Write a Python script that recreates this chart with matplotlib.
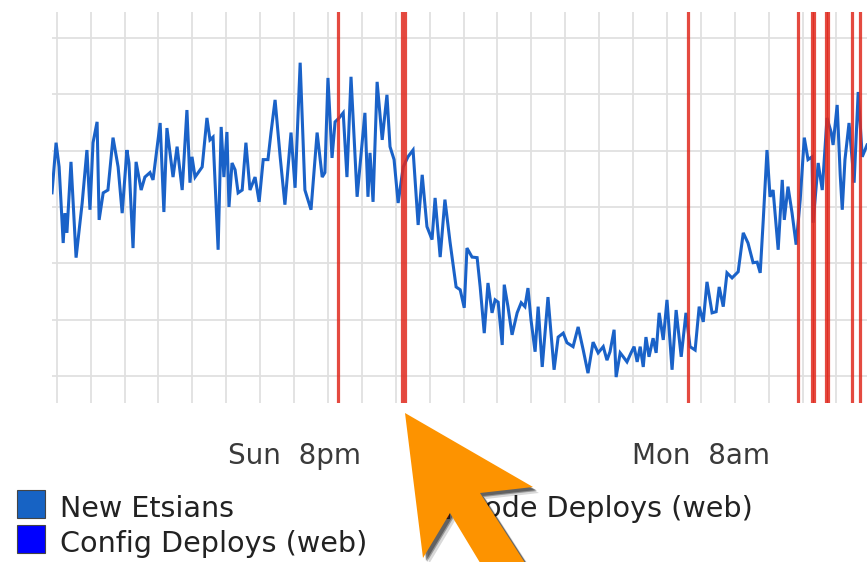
import matplotlib
matplotlib.use('Agg')
import matplotlib.pyplot as plt
from matplotlib.patches import Polygon, Rectangle

# hours since Sunday 00:00, values in arbitrary units (axis labels are not shown)
HOURS = [12.86, 12.98, 13.07, 13.19, 13.24, 13.30, 13.42, 13.57, 13.75, 13.89,
         13.98, 14.07, 14.19, 14.25, 14.37, 14.51, 14.66, 14.81, 14.93, 15.07,
         15.13, 15.25, 15.34, 15.49, 15.60, 15.75, 15.84, 16.05, 16.16, 16.25,
         16.43, 16.55, 16.70, 16.84, 16.93, 16.99, 17.08, 17.29, 17.43, 17.52,
         17.61, 17.76, 17.85, 17.93, 18.02, 18.08, 18.17, 18.26, 18.35, 18.47,
         18.58, 18.70, 18.85, 18.97, 19.09, 19.23, 19.32, 19.44, 19.59, 19.73,
         19.91, 20.03, 20.18, 20.32, 20.50, 20.68, 20.83, 20.91, 21.00, 21.12,
         21.21, 21.33, 21.45, 21.56, 21.68, 21.86, 22.09, 22.18, 22.24, 22.33,
         22.45, 22.60, 22.74, 22.83, 22.95, 23.07, 23.22, 23.36, 23.51, 23.66,
         23.78, 23.92, 24.07, 24.16, 24.31, 24.45, 24.60, 24.78, 24.90, 25.02,
         25.10, 25.25, 25.40, 25.49, 25.61, 25.72, 25.84, 25.93, 26.02, 26.14,
         26.20, 26.31, 26.43, 26.58, 26.70, 26.81, 26.90, 26.99, 27.11, 27.20,
         27.32, 27.49, 27.67, 27.79, 27.94, 28.05, 28.23, 28.38, 28.53, 28.67,
         28.82, 28.97, 29.12, 29.23, 29.32, 29.44, 29.50, 29.62, 29.71, 29.82,
         29.94, 30.03, 30.12, 30.21, 30.30, 30.38, 30.47, 30.59, 30.68, 30.77,
         30.89, 31.00, 31.15, 31.27, 31.42, 31.56, 31.68, 31.83, 31.95, 32.07,
         32.18, 32.33, 32.45, 32.54, 32.66, 32.77, 32.92, 33.10, 33.25, 33.39,
         33.54, 33.66, 33.75, 33.84, 33.95, 34.04, 34.13, 34.28, 34.40, 34.46,
         34.57, 34.69, 34.81, 34.93, 35.05, 35.16, 35.28, 35.31, 35.46, 35.58,
         35.72, 35.84, 35.90, 36.02, 36.11, 36.17, 36.25, 36.37, 36.52, 36.64,
         36.76, 36.90]
NEW_ETSIANS = [52.5, 61.4, 57.1, 43.6, 48.9, 45.4, 58.0, 41.0, 50.7, 60.1,
               49.5, 61.4, 65.1, 47.7, 52.5, 53.0, 62.3, 57.1, 48.9, 60.1,
               57.8, 42.7, 58.0, 53.0, 55.3, 56.1, 54.8, 64.9, 49.1, 64.0,
               55.3, 60.7, 53.0, 67.2, 54.3, 58.9, 55.3, 57.1, 65.8, 61.9,
               62.4, 42.4, 64.2, 55.3, 63.3, 50.0, 57.8, 56.6, 52.5, 53.0,
               61.4, 53.0, 55.3, 50.9, 58.4, 58.4, 63.2, 69.0, 58.9, 50.4,
               63.2, 53.4, 75.6, 53.0, 49.5, 63.2, 55.3, 56.1, 72.9, 58.7,
               65.1, 65.8, 66.7, 55.3, 73.1, 51.8, 66.7, 51.8, 59.6, 50.9,
               72.2, 61.9, 69.9, 60.7, 58.4, 50.7, 57.1, 58.9, 60.1, 46.8,
               55.7, 46.5, 44.2, 51.6, 41.1, 51.3, 43.8, 35.8, 35.3, 32.1,
               42.7, 41.1, 41.0, 35.8, 27.6, 36.5, 31.2, 33.5, 33.1, 25.5,
               36.2, 32.3, 27.3, 31.2, 33.0, 32.3, 35.6, 29.9, 24.3, 32.3,
               21.6, 34.0, 21.1, 26.9, 27.6, 25.9, 25.2, 28.7, 24.6, 20.5,
               26.0, 24.1, 25.2, 22.8, 24.3, 28.2, 19.8, 24.1, 23.4, 22.5,
               24.1, 25.2, 22.5, 25.2, 21.6, 26.9, 23.4, 26.7, 24.1, 31.2,
               26.4, 33.5, 21.1, 31.7, 23.4, 31.2, 25.2, 24.6, 32.3, 29.6,
               36.7, 31.2, 31.4, 35.8, 32.3, 38.3, 37.4, 38.5, 45.4, 43.6,
               40.1, 40.2, 38.3, 47.7, 60.1, 51.8, 53.0, 42.4, 54.8, 47.7,
               53.6, 48.9, 43.3, 51.3, 62.3, 58.4, 58.9, 47.2, 57.8, 53.0,
               65.8, 63.3, 61.0, 68.1, 55.7, 49.5, 58.4, 64.9, 54.3, 70.4,
               58.9, 61.0]
CODE_DEPLOYS = [21.30, 23.18, 23.27, 31.62, 34.87, 35.27, 35.35, 35.68, 35.76,
                36.46, 36.70]

TICK_HOURS = [20, 32]
TICK_LABELS = ['Sun  8pm', 'Mon  8am']

LEGEND_NAMES = ['New Etsians', 'Code Deploys (web)', 'Config Deploys (web)']
LEGEND_COLORS = ['#1763c4', '#e02a1e', '#0000ff']

W, H = 867, 562
LINE_BLUE = '#1a62c8'
DEPLOY_RED = '#e02a1e'
GRID = '#e0e0e0'

fig = plt.figure(figsize=(W / 100, H / 100), dpi=100)
fig.patch.set_facecolor('white')
ax = fig.add_axes([52 / W, 159 / H, 815 / W, 391 / H])

ax.plot(HOURS, NEW_ETSIANS, color=LINE_BLUE, lw=2.2, zorder=2,
        solid_joinstyle='miter')
for h in CODE_DEPLOYS:
    ax.axvline(h, color=DEPLOY_RED, lw=2.3, alpha=0.85, zorder=3)

ax.set_xlim(12.86, 36.90)
ax.set_ylim(15.2, 84.6)

ax.set_xticks(TICK_HOURS, TICK_LABELS)
ax.set_xticks(range(13, 37), minor=True)
ax.set_yticks(range(20, 81, 10))
ax.set_yticklabels([])
ax.grid(True, which='both', color=GRID, lw=1.3, zorder=0)
ax.tick_params(which='both', length=0)
ax.tick_params(axis='x', pad=28, labelsize=20, labelcolor='#3a3a3a')
for s in ax.spines.values():
    s.set_visible(False)

# legend, two columns like graphite
legend_pos = [(17, 518), (421, 518), (17, 553)]
for name, col, (px, py) in zip(LEGEND_NAMES, LEGEND_COLORS, legend_pos):
    fig.patches.append(Rectangle((px / W, 1 - py / H), 28 / W, 28 / H,
                                 transform=fig.transFigure, facecolor=col,
                                 edgecolor='#444444', lw=0.8, zorder=2))
    fig.text((px + 43) / W, 1 - (py - 1) / H, name, fontsize=20.6,
             color='#222222', va='baseline', ha='left', zorder=3)

# orange arrow pointing at the deploy
arrow_px = [(405, 413), (533, 487), (480, 493), (527, 566), (482, 566),
            (450, 513), (423, 558)]


def to_fig(pts, dx=0, dy=0):
    return [((x + dx) / W, 1 - (y + dy) / H) for x, y in pts]


for off, a in [(6, 0.15), (4, 0.3), (3, 0.35)]:
    fig.patches.append(Polygon(to_fig(arrow_px, off, off), closed=True,
                               transform=fig.transFigure, facecolor='#000000',
                               edgecolor='none', alpha=a, zorder=10))
fig.patches.append(Polygon(to_fig(arrow_px), closed=True,
                           transform=fig.transFigure, facecolor='#fd9300',
                           edgecolor='none', zorder=11))

fig.savefig('out.png', dpi=100)
